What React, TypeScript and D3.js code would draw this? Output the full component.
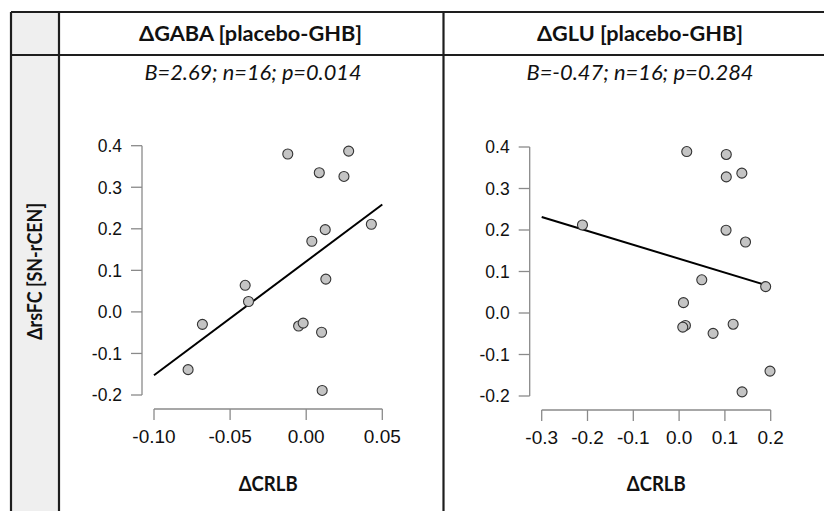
import React from "react";
import * as d3 from "d3";

// ---- data ----
const panelTitles = ["ΔGABA [placebo-GHB]", "ΔGLU [placebo-GHB]"];
const panelStats = ["B=2.69; n=16; p=0.014", "B=-0.47; n=16; p=0.284"];
const yTitle = "ΔrsFC [SN-rCEN]";
const xTitle = "ΔCRLB";

const gabaX = [-0.0121, 0.0279, 0.0086, 0.0248, 0.0428, 0.0125, 0.0037, 0.0129, -0.0401, -0.0379, -0.0682, -0.005, -0.002, 0.0101, -0.0776, 0.0105];
const gabaY = [0.38, 0.387, 0.335, 0.326, 0.211, 0.198, 0.17, 0.079, 0.064, 0.025, -0.03, -0.034, -0.027, -0.049, -0.139, -0.189];

const gluX = [0.0167, 0.103, 0.103, 0.137, -0.211, 0.1025, 0.145, 0.0495, 0.189, 0.0095, 0.0138, 0.008, 0.0742, 0.118, 0.1985, 0.1375];
const gluY = [0.389, 0.382, 0.328, 0.337, 0.212, 0.1995, 0.171, 0.08, 0.0636, 0.025, -0.03, -0.034, -0.049, -0.027, -0.14, -0.19];

// fitted lines: [slope, intercept], drawn over [xStart, xEnd]
const gabaFit = [2.74, 0.1215];
const gabaFitRange = [-0.1, 0.05];
const gluFit = [-0.335, 0.1308];
const gluFitRange = [-0.3, 0.1985];

const yTicks = [-0.2, -0.1, 0.0, 0.1, 0.2, 0.3, 0.4];
const gabaXTicks = [-0.1, -0.05, 0.0, 0.05];
const gluXTicks = [-0.3, -0.2, -0.1, 0.0, 0.1, 0.2];

const W = 824;
const H = 511;

const hy = (s: string) => s.replace(/\u2212/g, "-");

type PanelProps = {
  xs: number[];
  ys: number[];
  fit: number[];
  fitRange: number[];
  xTicks: number[];
  xFmt: (v: number) => string;
  xRange: [number, number];
  yRange: [number, number];
};

function Panel({ xs, ys, fit, fitRange, xTicks, xFmt, xRange, yRange }: PanelProps) {
  const x = d3.scaleLinear().domain([xTicks[0], xTicks[xTicks.length - 1]]).range(xRange);
  const y = d3.scaleLinear().domain([-0.2, 0.4]).range(yRange);
  const axisY = y(-0.2) + 14;
  const axisX = x(xTicks[0]) - 12;
  const line = d3.line<number>().x((v) => x(v)).y((v) => y(fit[0] * v + fit[1]));
  const yfmt = d3.format(".1f");
  const axisColor = "#8a8a8a";
  return (
    <g>
      {/* y axis */}
      <line x1={axisX} x2={axisX} y1={y(0.4)} y2={y(-0.2)} stroke={axisColor} strokeWidth={1.3} />
      {yTicks.map((t) => (
        <g key={"y" + t}>
          <line x1={axisX - 11} x2={axisX} y1={y(t)} y2={y(t)} stroke={axisColor} strokeWidth={1.3} />
          <text x={axisX - 20} y={y(t)} dy="0.36em" textAnchor="end" fontFamily="'Liberation Sans', Arial, sans-serif" fontSize={17.5} fill="#111">
            {hy(yfmt(t))}
          </text>
        </g>
      ))}
      {/* x axis */}
      <line x1={x(xTicks[0])} x2={x(xTicks[xTicks.length - 1])} y1={axisY} y2={axisY} stroke={axisColor} strokeWidth={1.3} />
      {xTicks.map((t) => (
        <g key={"x" + t}>
          <line x1={x(t)} x2={x(t)} y1={axisY} y2={axisY + 11} stroke={axisColor} strokeWidth={1.3} />
          <text x={x(t)} y={axisY + 34} textAnchor="middle" fontFamily="'Liberation Sans', Arial, sans-serif" fontSize={19} fill="#111">
            {hy(xFmt(t))}
          </text>
        </g>
      ))}
      {/* regression line */}
      <path d={line(fitRange) || ""} fill="none" stroke="#000" strokeWidth={2} />
      {/* points */}
      {xs.map((v, i) => (
        <circle key={i} cx={x(v)} cy={y(ys[i])} r={5} fill="#c4c4c4" stroke="#333" strokeWidth={1.1} />
      ))}
      <text x={(x(xTicks[0]) + x(xTicks[xTicks.length - 1])) / 2} y={491} textAnchor="middle" textLength={59} lengthAdjust="spacingAndGlyphs" fontFamily="Lato, sans-serif" fontWeight={700} fontSize={20} fill="#111">
        {xTitle}
      </text>
    </g>
  );
}

export default function App() {
  const border = "#1e1e1e";
  const left = 11;
  const top = 12;
  const colDiv = 59;
  const midDiv = 443.5;
  const headBottom = 55;
  return (
    <svg width={W} height={H} style={{ position: "absolute", left: 0, top: 0, background: "#fff" }}>
      <rect x={0} y={0} width={W} height={H} fill="#fff" />
      <rect x={left} y={top} width={colDiv - left} height={H - top} fill="#efefef" />
      {/* header texts */}
      <text x={250.5} y={41} textAnchor="middle" textLength={223} lengthAdjust="spacingAndGlyphs" fontFamily="Lato, sans-serif" fontWeight={700} fontSize={20.5} fill="#111">
        {panelTitles[0]}
      </text>
      <text x={640} y={41} textAnchor="middle" textLength={206} lengthAdjust="spacingAndGlyphs" fontFamily="Lato, sans-serif" fontWeight={700} fontSize={20.5} fill="#111">
        {panelTitles[1]}
      </text>
      <text x={253} y={80} textAnchor="middle" textLength={217} lengthAdjust="spacingAndGlyphs" fontFamily="Lato, sans-serif" fontStyle="italic" fontSize={20.5} fill="#111">
        {panelStats[0]}
      </text>
      <text x={640} y={80} textAnchor="middle" textLength={227} lengthAdjust="spacingAndGlyphs" fontFamily="Lato, sans-serif" fontStyle="italic" fontSize={20.5} fill="#111">
        {panelStats[1]}
      </text>
      <text transform="translate(42,271.5) rotate(-90)" textAnchor="middle" textLength={137} lengthAdjust="spacingAndGlyphs" fontFamily="Lato, sans-serif" fontWeight={700} fontSize={20} fill="#111">
        {yTitle}
      </text>

      <Panel xs={gabaX} ys={gabaY} fit={gabaFit} fitRange={gabaFitRange} xTicks={gabaXTicks} xFmt={d3.format(".2f")} xRange={[154, 382.3]} yRange={[395, 145.7]} />
      <Panel xs={gluX} ys={gluY} fit={gluFit} fitRange={gluFitRange} xTicks={gluXTicks} xFmt={d3.format(".1f")} xRange={[541.7, 770.7]} yRange={[396, 147]} />

      {/* table lines */}
      <line x1={left} x2={W} y1={top} y2={top} stroke={border} strokeWidth={2.2} />
      <line x1={left} x2={W} y1={headBottom} y2={headBottom} stroke={border} strokeWidth={2.2} />
      <line x1={left} x2={left} y1={top} y2={H} stroke={border} strokeWidth={2.2} />
      <line x1={colDiv} x2={colDiv} y1={top} y2={H} stroke={border} strokeWidth={2.2} />
      <line x1={midDiv} x2={midDiv} y1={top} y2={H} stroke={border} strokeWidth={2.2} />
    </svg>
  );
}
